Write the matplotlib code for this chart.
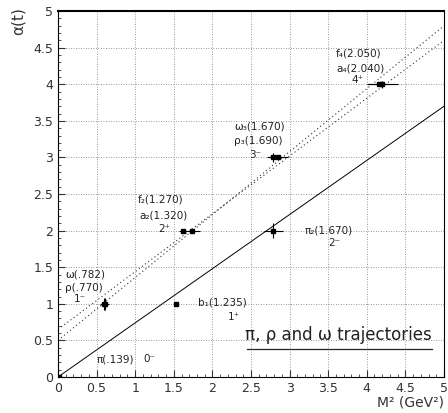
import numpy as np
import matplotlib.pyplot as plt

# Donnees
# (M^2 en GeV^2, spin J, erreur horizontale)
noms = ["π", "ρ", "ω", "b₁", "f₂", "a₂", "π₂", "ω₃", "ρ₃", "f₄", "a₄"]
m2 = [0.019, 0.593, 0.612, 1.525, 1.613, 1.742, 2.789, 2.789, 2.856, 4.202, 4.162]
spin = [0, 1, 1, 1, 2, 2, 2, 3, 3, 4, 4]
m2_err = [0.0, 0.05, 0.05, 0.0, 0.05, 0.1, 0.12, 0.08, 0.12, 0.2, 0.15]
spin_err = [0.0, 0.08, 0.08, 0.0, 0.0, 0.0, 0.1, 0.06, 0.0, 0.05, 0.0]

# Trajectoires (ordonnee a l'origine, pente)
traj_pi = (0.0, 0.74)
traj_rho = (0.5, 0.86)
traj_omega = (0.65, 0.79)

# Etiquettes : texte, x, y
labels = [
    ("ω(.782)", 0.09, 1.40), ("ρ(.770)", 0.09, 1.21), ("1⁻", 0.2, 1.07),
    ("π(.139)", 0.5, 0.24), ("0⁻", 1.1, 0.24),
    ("b₁(1.235)", 1.81, 1.02), ("1⁺", 2.2, 0.82),
    ("f₂(1.270)", 1.03, 2.42), ("a₂(1.320)", 1.05, 2.21), ("2⁺", 1.3, 2.02),
    ("π₂(1.670)", 3.2, 2.0), ("2⁻", 3.5, 1.83),
    ("ω₃(1.670)", 2.28, 3.42), ("ρ₃(1.690)", 2.28, 3.23), ("3⁻", 2.48, 3.03),
    ("f₄(2.050)", 3.6, 4.42), ("a₄(2.040)", 3.6, 4.22), ("4⁺", 3.8, 4.06),
]

fig = plt.figure(figsize=(4.48, 4.13), dpi=100)
ax = fig.add_axes([0.1295, 0.0872, 0.8615, 0.8858])

ax.set_xlim(0, 5)
ax.set_ylim(0, 5)
ax.set_xticks(np.arange(0, 5.01, 0.5))
ax.set_yticks(np.arange(0, 5.01, 0.5))
ax.set_xticklabels(["0", "0.5", "1", "1.5", "2", "2.5", "3", "3.5", "4", "4.5", "5"])
ax.set_yticklabels(["0", "0.5", "1", "1.5", "2", "2.5", "3", "3.5", "4", "4.5", "5"])
ax.set_xticks(np.arange(0, 5.01, 0.1), minor=True)
ax.set_yticks(np.arange(0, 5.01, 0.1), minor=True)
ax.tick_params(which="both", direction="in", labelsize=9, colors="#333333")
ax.tick_params(which="major", length=5, width=0.8)
ax.tick_params(which="minor", length=2.5, width=0.6)
ax.grid(True, which="major", linestyle=(0, (1, 2)), color="#777777", linewidth=0.6)
for s in ax.spines.values():
    s.set_linewidth(0.8)
ax.spines["top"].set_linewidth(1.5)

x = np.linspace(0, 5, 100)
ax.plot(x, traj_pi[0] + traj_pi[1] * x, color="black", lw=0.7)
ax.plot(x, traj_rho[0] + traj_rho[1] * x, color="#333333", lw=0.8, linestyle=(0, (1, 2.5)))
ax.plot(x, traj_omega[0] + traj_omega[1] * x, color="#333333", lw=0.8, linestyle=(0, (1, 2.5)))

ax.errorbar(m2, spin, xerr=m2_err, yerr=spin_err, fmt="s", color="black",
            markersize=2.5, elinewidth=0.8, capsize=0, zorder=5)

for txt, tx, ty in labels:
    ax.text(tx, ty, txt, fontsize=7.5, color="#222222", va="center", ha="left")

ax.text(2.42, 0.58, "π, ρ and ω trajectories", fontsize=12, color="#222222",
        va="center", ha="left")
ax.plot([2.45, 4.85], [0.38, 0.38], color="#222222", lw=0.9)

fig.text(0.04, 0.95, "α(t)", rotation=90, fontsize=11, ha="center", va="center",
         color="#333333")
fig.text(0.99, 0.025, "M² (GeV²)", fontsize=10, ha="right", va="center",
         color="#333333")

fig.savefig("out.png", dpi=100)
